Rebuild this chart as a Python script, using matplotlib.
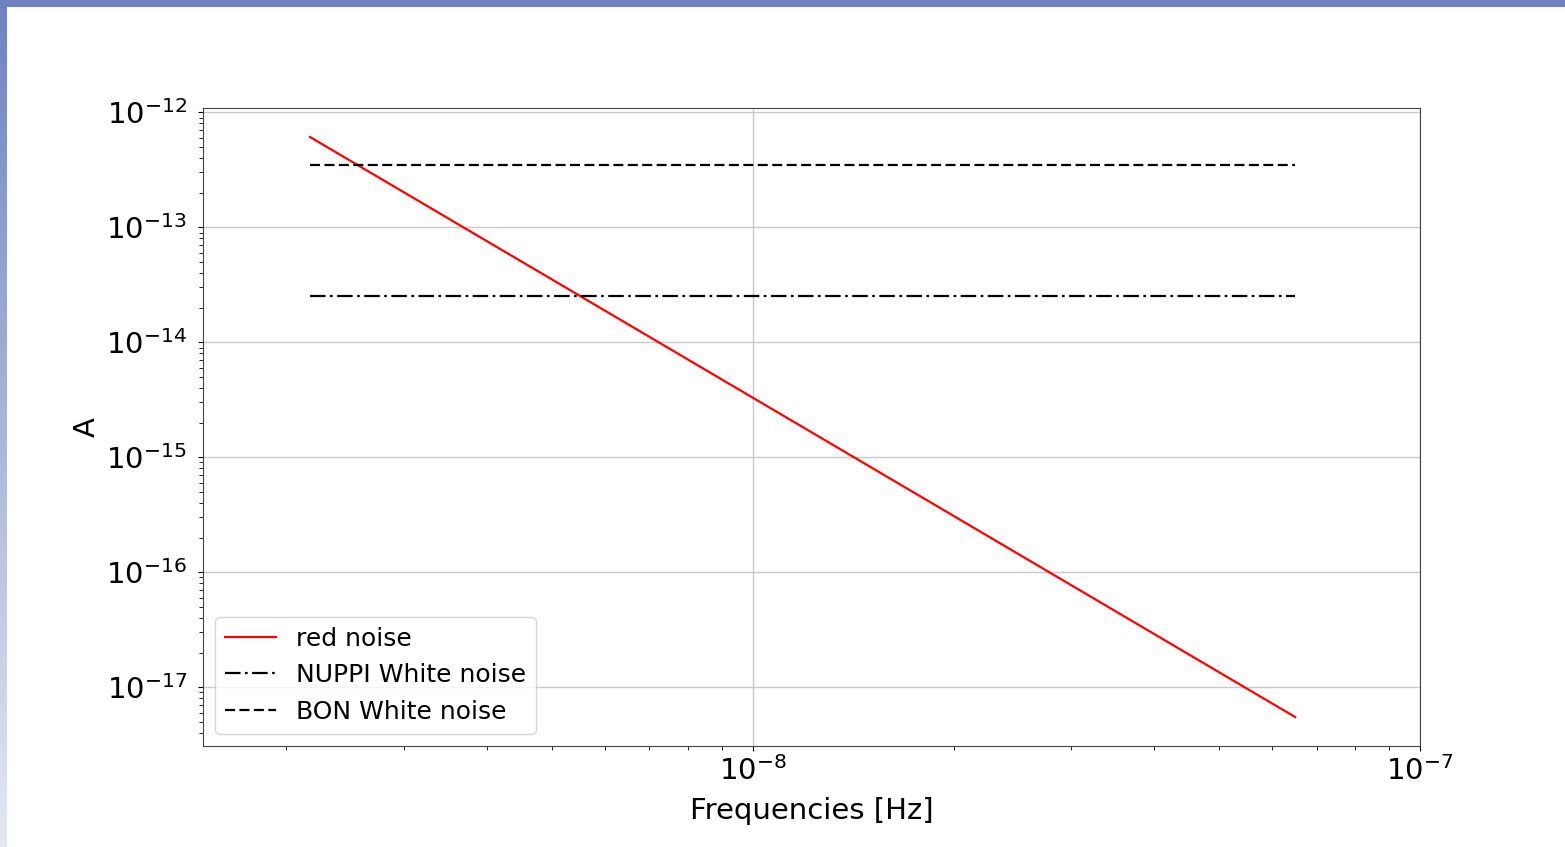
import numpy as np
import matplotlib
matplotlib.use("Agg")
import matplotlib.pyplot as plt

# valeurs
freqs = [2.17e-9, 6.5e-8]
red_noise = [6.1e-13, 5.5e-18]
nuppi_white = [2.52e-14, 2.52e-14]
bon_white = [3.47e-13, 3.47e-13]

fig = plt.figure(figsize=(15.65, 8.47), dpi=100)
ax = fig.add_axes([203/1565, 1-746/847, (1420-203)/1565, (746-108)/847])

ax.loglog(freqs, red_noise, color='red', lw=1.6, label='red noise')
ax.loglog(freqs, nuppi_white, color='k', lw=1.6, dashes=(7, 2, 1.2, 2), label='NUPPI White noise')
ax.loglog(freqs, bon_white, color='k', lw=1.6, dashes=(4.5, 2), label='BON White noise')

ax.set_xlim(1.5e-9, 1e-7)
ax.grid(True, which='major', color='#c8c8c8', lw=1.0)
ax.tick_params(labelsize=21)
ax.tick_params(axis='y', pad=8)
ax.tick_params(which='minor', length=3)
ax.set_xlabel('Frequencies [Hz]', fontsize=21, labelpad=8)
ax.set_ylabel('A', fontsize=21, labelpad=4)
for s in ax.spines.values():
    s.set_color('#444444')

ax.legend(loc='lower left', fontsize=18, framealpha=0.8, handlelength=2.0,
          borderaxespad=0.5, labelspacing=0.5)

# bordure bleue de la diapo
W, H = 1565, 847
top = np.array([0x6e, 0x82, 0xbf]) / 255
bot = np.array([0xe4, 0xe8, 0xf3]) / 255
t = np.linspace(0, 1, H)[:, None, None]
left_bar = np.repeat(top * (1 - t) + bot * t, 7, axis=1)
fig.figimage(left_bar, xo=0, yo=0, origin='upper', zorder=10)
top_bar = np.ones((7, W, 3)) * top
fig.figimage(top_bar, xo=0, yo=H-7, origin='upper', zorder=11)

fig.savefig('out.png', dpi=100)
